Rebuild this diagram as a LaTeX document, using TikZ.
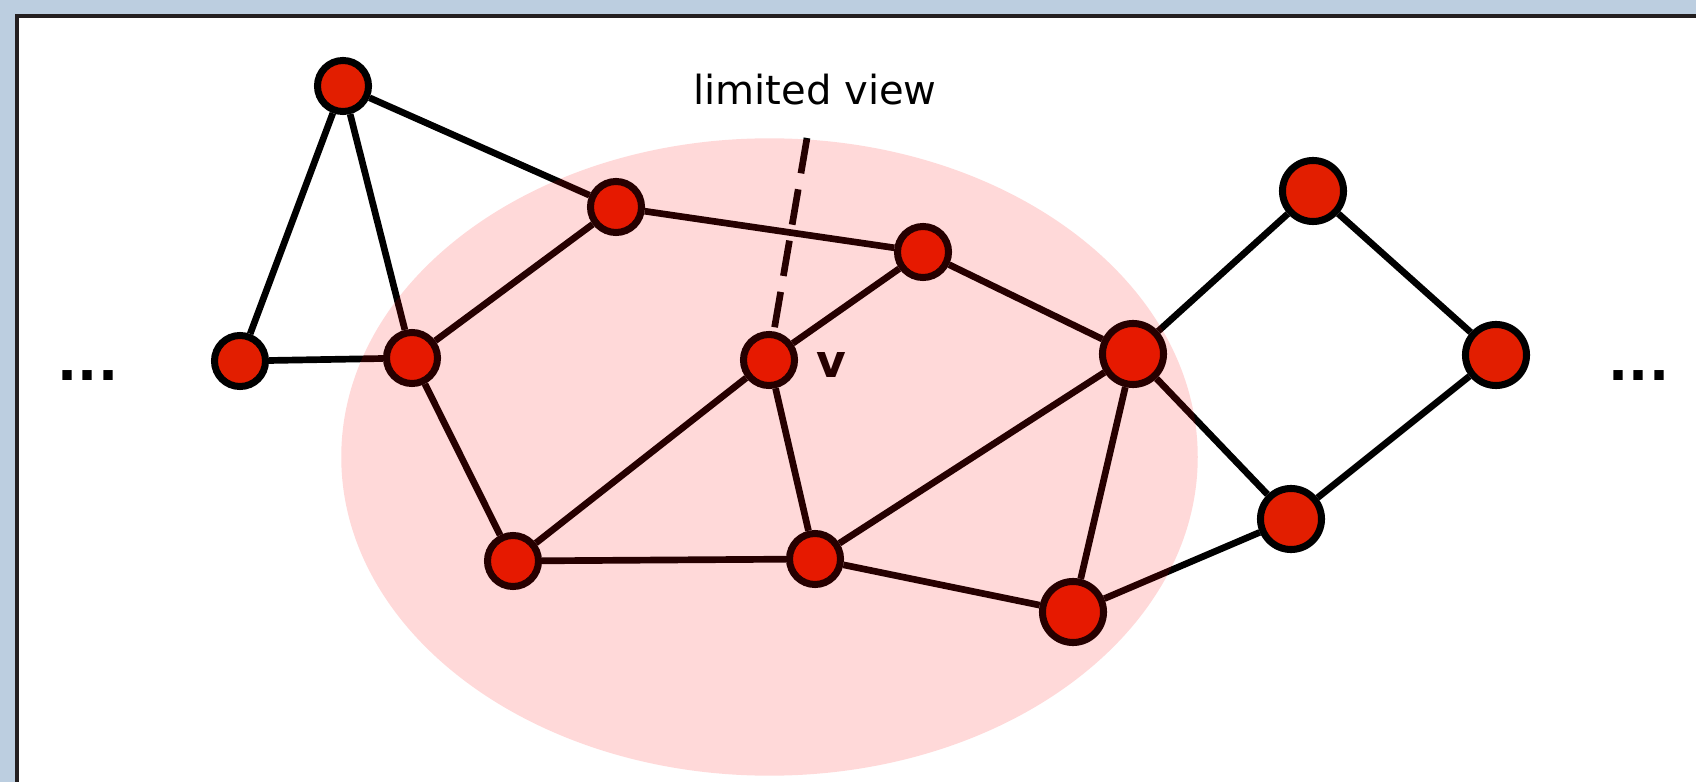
\documentclass[tikz,border=0pt]{standalone}
\usepackage{fontspec}
\setmainfont{DejaVu Sans}
\definecolor{bgblue}{RGB}{188,206,224}
\definecolor{framegray}{RGB}{35,31,32}
\definecolor{nodered}{RGB}{226,30,0}
\tikzstyle{vertex}    = [circle, draw=black, fill=nodered, line width=2pt,
                          minimum size=0.51cm, inner sep=0pt]
\tikzstyle{bigvertex} = [vertex, minimum size=0.61cm]
\tikzstyle{link}      = [line width=1.9pt]
\tikzstyle{dots}      = [anchor=base, font=\fontsize{15}{18}\selectfont\bfseries]

\begin{document}
\begin{tikzpicture}[x=0.01cm, y=-0.01cm]
  \useasboundingbox (0,0) rectangle (1696,782);
  \fill[bgblue] (0,0) rectangle (1696,782);
  \filldraw[fill=white, draw=framegray, line width=1.3pt] (17,16) rectangle (1720,800);

  \node (apex)  [vertex]    at (343,86)   {};
  \node (wing)  [vertex]    at (240,361)  {};
  \node (hub)   [vertex]    at (412,358)  {};
  \node (upper) [vertex]    at (616,207)  {};
  \node (rim)   [vertex]    at (923,252)  {};
  \node (v)     [vertex]    at (769,360)  {};
  \node (foot)  [vertex]    at (513,561)  {};
  \node (mid)   [vertex]    at (815,559)  {};
  \node (gate)  [bigvertex] at (1133,354) {};
  \node (sink)  [bigvertex] at (1073,612) {};
  \node (peak)  [bigvertex] at (1313,191) {};
  \node (tip)   [bigvertex] at (1496,355) {};
  \node (dip)   [bigvertex] at (1291,519) {};

  \draw[link] (apex) -- (wing);
  \draw[link] (apex) -- (hub);
  \draw[link] (apex) -- (upper);
  \draw[link] (wing) -- (hub);
  \draw[link] (hub) -- (upper);
  \draw[link] (hub) -- (foot);
  \draw[link] (upper) -- (rim);
  \draw[link] (rim) -- (v);
  \draw[link] (rim) -- (gate);
  \draw[link] (v) -- (foot);
  \draw[link] (v) -- (mid);
  \draw[link] (foot) -- (mid);
  \draw[link] (mid) -- (gate);
  \draw[link] (mid) -- (sink);
  \draw[link] (gate) -- (sink);
  \draw[link] (gate) -- (peak);
  \draw[link] (gate) -- (dip);
  \draw[link] (peak) -- (tip);
  \draw[link] (tip) -- (dip);
  \draw[link] (dip) -- (sink);

  % line of sight from v
  \coordinate (sight) at (807,138);
  \draw[link, dash pattern=on 10.2pt off 4.6pt] (sight) -- (v);

  \node (caption) [anchor=base, font=\fontsize{11.4}{13}\selectfont] at (815,105) {limited view};
  \node (vlabel)  [anchor=base, font=\fontsize{13}{15}\selectfont\bfseries] at (831,378) {v};
  \node (moreL)   [dots] at (88,380)   {...};
  \node (moreR)   [dots] at (1639,380) {...};

  % the limited view region
  \fill[red, fill opacity=0.15] (769.5,457) ellipse [x radius=4.28cm, y radius=3.185cm];
\end{tikzpicture}
\end{document}
